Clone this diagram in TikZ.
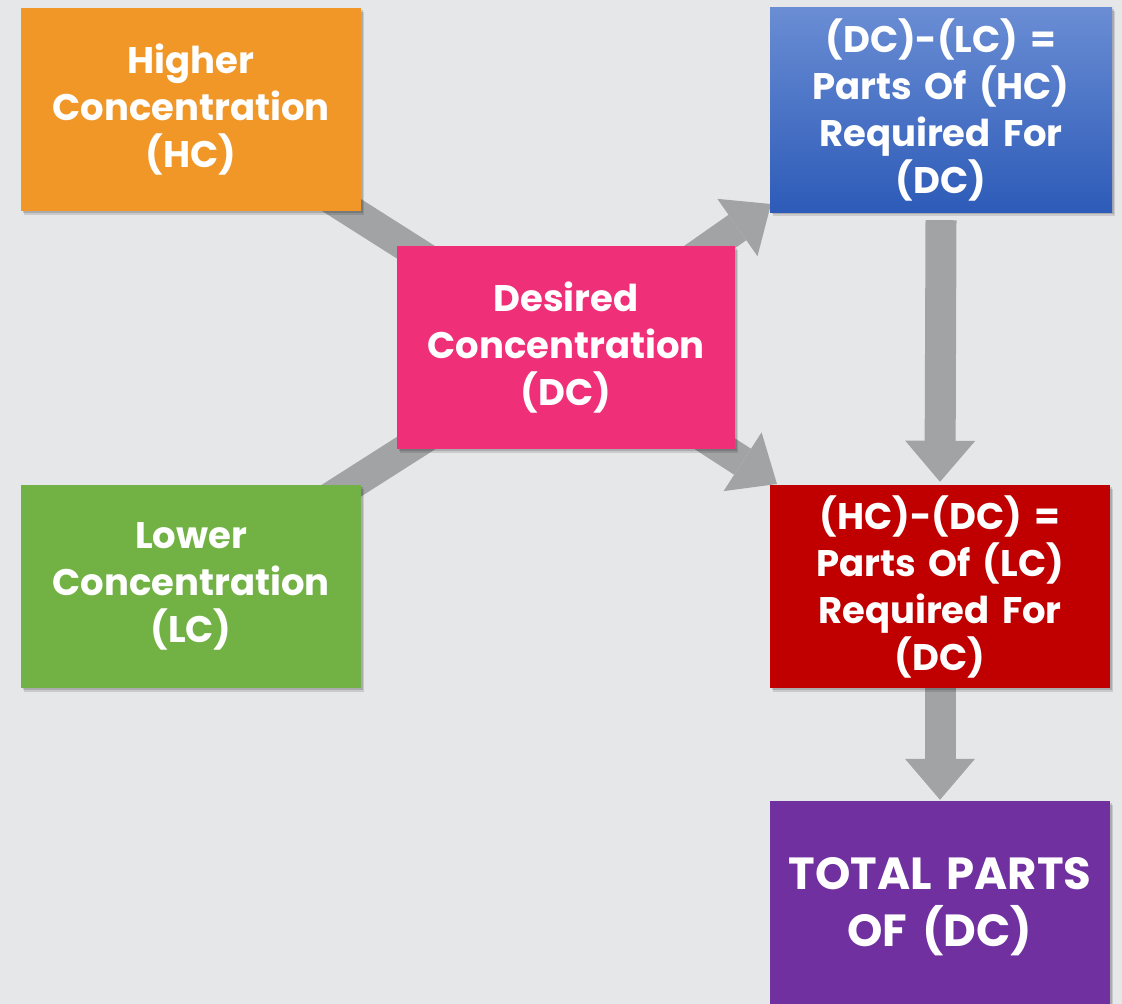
\documentclass[tikz,border=0pt]{standalone}
\usepackage{fontspec}
\setmainfont{Poppins}
\usetikzlibrary{shadows,arrows.meta,calc}
\definecolor{bgc}{HTML}{E6E7E9}
\definecolor{arrc}{HTML}{A2A3A5}
\definecolor{hcc}{HTML}{F09728}
\definecolor{dcc}{HTML}{EF2F78}
\definecolor{lcc}{HTML}{72B244}
\definecolor{bluetop}{HTML}{6A8DD4}
\definecolor{bluebot}{HTML}{2D5BB8}
\definecolor{redc}{HTML}{C00000}
\definecolor{purc}{HTML}{7030A0}
\pgfdeclarelayer{back}
\pgfdeclarelayer{arrows}
\pgfsetlayers{back,arrows,main}
\tikzset{
  box/.style={minimum width=340pt, minimum height=203pt, inner sep=0pt,
    text=white, font=\fontsize{37}{47}\selectfont\bfseries, align=center,
    text width=335pt,
    general shadow={fill=black, opacity=0.12, shadow xshift=3pt, shadow yshift=-4pt},
    general shadow={fill=black, opacity=0.15, shadow xshift=1.5pt, shadow yshift=-2pt}},
  arr/.style={draw=arrc, line width=31pt, line cap=butt},
  tip/.style={-{Triangle[width=70pt,length=41pt,line width=0pt]}}
}
\begin{document}
\begin{tikzpicture}[x=1pt,y=-1pt]
\begin{pgfonlayer}{back}
\fill[bgc] (0,0) rectangle (1122,1004);
\end{pgfonlayer}
\useasboundingbox (0,0) rectangle (1122,1004);

\node[box, fill=hcc] (hc) at (191,109.5) {Higher\\Concentration\\(HC)};
\node[box, fill=lcc] (lc) at (191,586.5) {Lower\\Concentration\\(LC)};
\node[box, fill=dcc, minimum width=338pt] (dc) at (566,347.5) {Desired\\Concentration\\(DC)};
\node[box, top color=bluetop, bottom color=bluebot, minimum width=342pt, minimum height=205pt] (hcp) at (941,109.5) {(DC)-(LC) =\\Parts Of (HC)\\Required For\\(DC)};
\node[box, fill=redc] (lcp) at (940,586.5) {(HC)-(DC) =\\Parts Of (LC)\\Required For\\(DC)};
\node[box, fill=purc, minimum height=212pt, font=\fontsize{45}{57}\selectfont\bfseries] (tot) at (940,907) {TOTAL PARTS\\OF (DC)};

\coordinate (t1) at (771,204);
\coordinate (t2) at (777,484);
\begin{pgfonlayer}{arrows}
\draw[arr] (hc.center) -- (dc.center);
\draw[arr] (lc.center) -- (dc.center);
\draw[arr, tip] (dc.center) -- (t1);
\draw[arr, tip] (dc.center) -- (t2);
\draw[arr, tip] ([yshift=-8pt]hcp.south) -- ([yshift=3pt]lcp.north);
\draw[arr, tip] (lcp.center) -- ([yshift=1pt]tot.north);
\end{pgfonlayer}
\end{tikzpicture}
\end{document}
